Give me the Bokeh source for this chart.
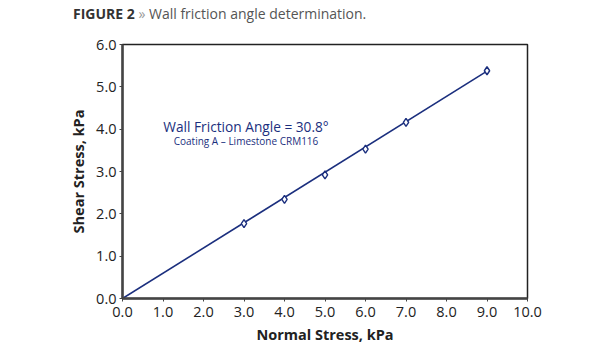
from bokeh.plotting import figure
from bokeh.models import Label, Range1d, FixedTicker, Div
from bokeh.layouts import column
from bokeh.embed import file_html
from bokeh.resources import INLINE

normal_stress = [3.0, 4.0, 5.0, 6.0, 7.0, 9.0]
shear_stress = [1.77, 2.34, 2.92, 3.53, 4.16, 5.38]
fit_x = [0.0, 9.0]
fit_y = [0.0, 5.37]
x_ticks = [0, 1, 2, 3, 4, 5, 6, 7, 8, 9, 10]
y_ticks = [0, 1, 2, 3, 4, 5, 6]

NAVY = "#1b2f7e"
FONT = "Open Sans"

title = Div(
    text='<span style="font-weight:bold;color:#333333">FIGURE 2</span>'
         '<span style="color:#999999"> »</span>'
         '<span style="color:#555555"> Wall friction angle determination.</span>',
    width=615, height=30, margin=(0, 0, 0, 0),
    styles={"font-family": FONT, "font-size": "14px", "padding-left": "73px",
            "padding-top": "4px", "line-height": "20px"})

p = figure(width=615, height=320, output_backend="svg", toolbar_location=None,
           x_range=Range1d(0, 10), y_range=Range1d(0, 6), margin=(0, 0, 0, 0),
           min_border_left=122, min_border_right=88, min_border_top=14, min_border_bottom=52)
p.background_fill_color = "white"
p.border_fill_color = "white"
p.outline_line_color = "#222222"
p.outline_line_width = 1.5
p.xgrid.visible = False
p.ygrid.visible = False

for ax in (p.xaxis[0], p.yaxis[0]):
    ax.axis_line_color = "#444444"
    ax.axis_line_width = 2.5
    ax.major_tick_line_color = "#444444"
    ax.major_tick_out = 3
    ax.major_tick_in = 0
    ax.minor_tick_line_color = None
    ax.major_label_text_font = FONT
    ax.major_label_text_font_size = "14.5px"
    ax.major_label_text_color = "#222222"
    ax.axis_label_text_font = FONT
    ax.axis_label_text_font_size = "14.5px"
    ax.axis_label_text_font_style = "bold"
    ax.axis_label_text_color = "#222222"

p.xaxis.ticker = FixedTicker(ticks=x_ticks)
p.yaxis.ticker = FixedTicker(ticks=y_ticks)
p.xaxis.major_label_overrides = {t: f"{t:.1f}" for t in x_ticks}
p.yaxis.major_label_overrides = {t: f"{t:.1f}" for t in y_ticks}
p.xaxis.axis_label = "Normal Stress, kPa"
p.yaxis.axis_label = "Shear Stress, kPa"
p.xaxis.major_label_standoff = 5
p.yaxis.major_label_standoff = 3
p.xaxis.axis_label_standoff = 5
p.yaxis.axis_label_standoff = 5

p.line(fit_x, fit_y, line_color=NAVY, line_width=1.6)
p.scatter(normal_stress, shear_stress, marker="diamond", size=8,
          fill_color="white", line_color=NAVY, line_width=1.4)

p.add_layout(Label(x=3.05, y=4.07, text="Wall Friction Angle = 30.8°", text_font=FONT,
                   text_font_size="13.7px", text_color=NAVY, text_align="center",
                   text_baseline="middle"))
p.add_layout(Label(x=3.05, y=3.73, text="Coating A – Limestone CRM116", text_font=FONT,
                   text_font_size="10px", text_color=NAVY, text_align="center",
                   text_baseline="middle"))

layout = column(title, p, margin=(0, 0, 0, 0), spacing=0)
open("out.html", "w").write(file_html(layout, INLINE))
